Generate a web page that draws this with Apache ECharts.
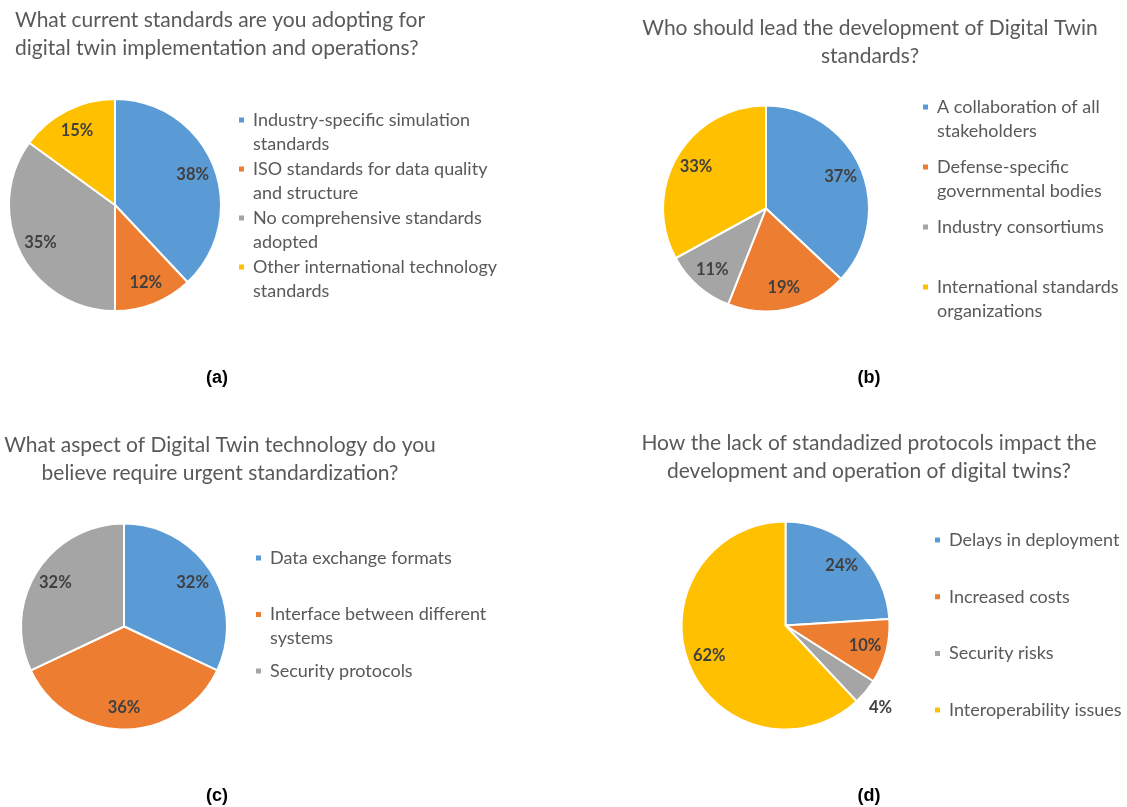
<!DOCTYPE html>
<html>
<head>
<meta charset="utf-8">
<script src="https://cdn.jsdelivr.net/npm/echarts@6/dist/echarts.min.js"></script>
<style>
  html, body { margin: 0; padding: 0; background: #fff; }
  #chart { width: 1127px; height: 807px; }
</style>
</head>
<body>
<div id="chart"></div>
<script>
const COLORS = ['#5B9BD5', '#ED7D31', '#A5A5A5', '#FFC000']

// (a)
const titleA = 'What current standards are you adopting for\ndigital twin implementation and operations?'
const namesA = ['Industry-specific simulation\nstandards', 'ISO standards for data quality\nand structure', 'No comprehensive standards\nadopted', 'Other international technology\nstandards']
const valuesA = [38, 12, 35, 15]

// (b)
const titleB = 'Who should lead the development of Digital Twin\nstandards?'
const namesB = ['A collaboration of all\nstakeholders', 'Defense-specific\ngovernmental bodies', 'Industry consortiums', 'International standards\norganizations']
const valuesB = [37, 19, 11, 33]

// (c)
const titleC = 'What aspect of Digital Twin technology do you\nbelieve require urgent standardization?'
const namesC = ['Data exchange formats', 'Interface between different\nsystems', 'Security protocols']
const valuesC = [32, 36, 32]

// (d)
const titleD = 'How the lack of standadized protocols impact the\ndevelopment and operation of digital twins?'
const namesD = ['Delays in deployment', 'Increased costs', 'Security risks', 'Interoperability issues']
const valuesD = [24, 10, 4, 62]

const FONT = 'Lato'
// square sitting at the top of a taller box, so the marker lines up with the first text line
const ICON_TOP = 'path://M0,0h7v7h-7zM0,30.9h0.1v0.1h-0.1z'

const panels = [
  { title: titleA, names: namesA, values: valuesA, caption: '(a)', center: [115, 205], r: 106,
    titleX: 15, titleAlign: 'left', titleTop: 6, legendLeft: 237, legendTop: 108, legendGap: 1, twoLine: true, capX: 217, capTop: 368 },
  { title: titleB, names: namesB, values: valuesB, caption: '(b)', center: [766, 208.5], r: 103,
    titleX: 870, titleAlign: 'center', titleTop: 14, legendLeft: 921, legendTop: 95, legendGap: 12, twoLine: true, capX: 869, capTop: 368 },
  { title: titleC, names: namesC, values: valuesC, caption: '(c)', center: [124, 626.5], r: 103,
    titleX: 220, titleAlign: 'center', titleTop: 431, legendLeft: 254, legendTop: 546, legendGap: 8.5, twoLine: true, capX: 217, capTop: 786 },
  { title: titleD, names: namesD, values: valuesD, caption: '(d)', center: [785.5, 625.5], r: 104,
    titleX: 869, titleAlign: 'center', titleTop: 429, legendLeft: 933, legendTop: 528, legendGap: 32.7, twoLine: false, capX: 869, capTop: 786,
    outsideLabel: 2 },
]

const titles = []
const legends = []
const series = []

panels.forEach(p => {
  titles.push({
    text: p.title, left: p.titleX, top: p.titleTop, textAlign: p.titleAlign, padding: 0,
    textStyle: { fontFamily: FONT, fontSize: 21, fontWeight: 'normal', color: '#595959', lineHeight: 28 },
  })
  titles.push({
    text: p.caption, left: p.capX, top: p.capTop, textAlign: 'center', padding: 0,
    textStyle: { fontFamily: 'Liberation Sans', fontSize: 18, fontWeight: 'bold', color: '#000', lineHeight: 20 },
  })
  legends.push({
    orient: 'vertical', left: p.legendLeft, top: p.legendTop, padding: 0,
    itemGap: p.legendGap, itemWidth: 7, itemHeight: p.twoLine ? 31 : 7,
    icon: p.twoLine ? ICON_TOP : 'rect',
    selectedMode: false,
    data: p.names,
    formatter: p.twoLine ? (n => n.includes('\n') ? n : n + '\n ') : '{name}',
    textStyle: { fontFamily: FONT, fontSize: 18, color: '#595959', lineHeight: 24, padding: [0, 0, 0, 3] },
  })
  series.push({
    type: 'pie', center: p.center, radius: p.r, startAngle: 90, clockwise: true, silent: true,
    label: { show: false }, labelLine: { show: false },
    itemStyle: { borderColor: '#fff', borderWidth: 2 },
    data: p.names.map((n, i) => ({ name: n, value: p.values[i], itemStyle: { color: COLORS[i] } })),
  })
  // label layer: same slices, transparent, so "inside" labels sit near the rim like Excel's
  series.push({
    type: 'pie', center: p.center, radius: [p.r * 0.52, p.r], startAngle: 90, clockwise: true, silent: true,
    avoidLabelOverlap: false,
    itemStyle: { color: 'rgba(0,0,0,0)', borderWidth: 0 },
    label: { show: true, position: 'inside', formatter: '{c}%', fontFamily: FONT, fontWeight: 'bold', fontSize: 16.5, color: '#404040' },
    labelLine: { show: false },
    data: p.names.map((n, i) => {
      const d = { name: n, value: p.values[i] }
      if (i === p.outsideLabel) {
        d.label = { position: 'outside' }
        d.labelLine = { show: false, length: 25, length2: -21 }
      }
      return d
    }),
  })
})

const chart = echarts.init(document.getElementById('chart'), null, { renderer: 'canvas' })
chart.setOption({
  backgroundColor: '#fff',
  animation: false,
  title: titles,
  legend: legends,
  series: series,
})
</script>
</body>
</html>
